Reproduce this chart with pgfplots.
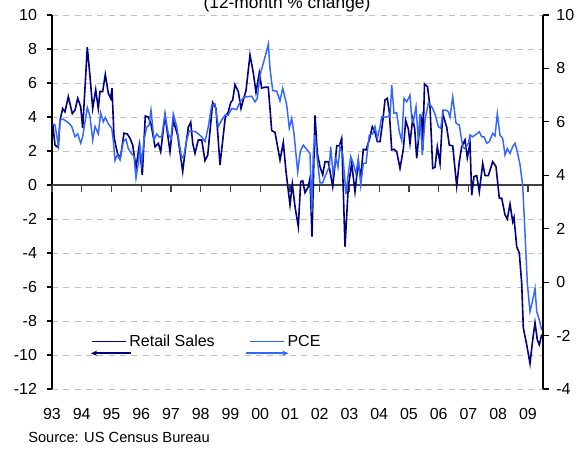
\documentclass[border=0pt]{standalone}
\usepackage{pgfplots}
\pgfplotsset{compat=1.18}
\usepackage{fontspec}
\setmainfont{Liberation Sans}
\usetikzlibrary{arrows.meta}
\definecolor{navyline}{RGB}{0,0,128}
\definecolor{pceblue}{RGB}{51,102,255}
\definecolor{gridgray}{RGB}{192,192,192}

\pgfplotsset{
  common/.style={
    scale only axis, width=368.25pt, height=280.5pt,
    at={(0pt,0pt)}, anchor=south west,
    xmin=1993, xmax=2009.504,
    x filter/.expression={1993+(x-52)/29.75},
    /pgf/number format/assume math mode=true,
    tick label style={font=\fontsize{12}{14}\selectfont},
  },
}

\begin{document}
\begin{tikzpicture}
% grid, left axis, x labels
\begin{axis}[common,
  ymin=-12, ymax=10,
  axis y line*=left, axis x line*=bottom,
  x axis line style={draw=none},
  xtick={1993,...,2009},
  xticklabels={93,94,95,96,97,98,99,00,01,02,03,04,05,06,07,08,09},
  xtick style={draw=none},
  ytick={-12,-10,...,10},
  yticklabels={-12,-10,-8,-6,-4,-2,0,2,4,6,8,10},
  ymajorgrids,
  grid style={gridgray, dash pattern=on 4.5pt off 4pt, line width=0.75pt},
  y axis line style={black, line width=0.8pt},
  ytick style={black, line width=0.8pt},
  tick align=outside, major tick length=3.75pt,
  xticklabel style={yshift=-7pt},
  yticklabel style={xshift=-4pt},
]
\end{axis}
% zero line with year ticks
\begin{axis}[common,
  ymin=-12, ymax=10,
  axis x line=middle, axis y line=none,
  xtick={1993,...,2009}, xticklabels={},
  x axis line style={-, black!75, line width=0.8pt},
  xtick style={black!75, line width=0.8pt},
  xtick align=outside, major tick length=5pt,
]
\end{axis}
% Retail sales (left axis)
\begin{axis}[common, ymin=-12, ymax=10, hide axis]
\addplot[navyline, line width=1.2pt] coordinates {
(52.7,3.6) (55,2.35) (58.3,2.2) (60,3.8) (62.7,4.5) (65,4.3) (68.3,5.2) (72.3,4.2) (75,4.4) (77.7,5.1) (80.7,4.6) (82.7,3.35) (87.3,8.1) (90,6.4) (92.7,4.5) (95.7,5.6) (98.3,4.5) (100,5.5) (102.7,5.5) (105.3,6.5) (108.3,5.4) (110.7,5.1) (112,5.7) (114,2.85) (116,2.25) (118,1.75) (120.7,1.7) (124,3.05) (127.3,3.0) (130,2.75) (132.7,2.35) (136,1.0) (139.3,2.35) (142.3,0.6) (145.3,4.06) (148.3,4.0) (151,3.6) (155,2.25) (158.3,2.45) (160.7,1.96) (165,4.1) (170,1.96) (173.3,3.8) (177.7,2.9) (182.7,0.8) (185.7,2.25) (188.3,3.4) (190.7,3.7) (192.7,2.45) (195,1.86) (198.3,2.65) (201.7,2.65) (205,1.43) (207.7,1.75) (212.7,4.85) (216,4.5) (220,1.18) (225.3,4.0) (228.3,4.3) (230.7,4.85) (232.7,5.0) (235,5.9) (238.3,5.5) (241,4.5) (243.3,5.0) (246,5.55) (250,7.65) (253.3,6.6) (256,5.45) (259.3,6.6) (261.7,5.7) (265,5.75) (268.3,5.75) (271.7,3.2) (275,3.1) (280,1.47) (283.3,2.5) (286,0.8) (290,-1.18) (292.3,0.06) (295,-1.27) (298.3,-2.45) (300.7,0.2) (302.7,0.25) (305,-0.45) (308.3,-0.1) (310,0.4) (312,-3.04) (315,4.1) (317.3,1.86) (320,1.08) (322.7,0.6) (325,1.37) (328.3,1.37) (332.7,-0.1) (335,1.2) (336.7,2.3) (339.3,2.3) (341.7,2.75) (345,-3.63) (348.3,-0.1) (351.7,1.27) (355,-0.4) (358.3,1.37) (360.7,0.4) (363.3,2.1) (366,2.06) (369.3,2.65) (372.3,3.43) (375,3.1) (377.3,2.55) (380,2.55) (382.7,3.73) (385,5.0) (387.3,5.1) (389.3,4.3) (391.7,2.06) (394,2.1) (396.7,1.96) (400,0.98) (403.3,2.1) (405.7,3.8) (408.3,3.3) (410,2.45) (412.7,3.9) (414.7,3.3) (416.7,1.57) (419.3,3.2) (421.7,3.9) (422.7,2.06) (424.5,5.94) (427.5,5.78) (430,4.6) (432.7,0.98) (435,1.05) (437.3,2.25) (440,1.27) (442.7,4.2) (446.7,3.4) (449.3,2.35) (452.7,2.3) (456.7,-0.06) (459.3,1.37) (461.7,2.25) (465,2.65) (467.3,1.6) (470,2.45) (471.7,-0.6) (474,0.5) (476.7,0.55) (479.3,-0.4) (482.7,1.27) (485,0.55) (488.3,0.55) (492.7,1.37) (496,1.08) (499.3,-0.78) (501.7,-0.78) (505,-1.76) (507.3,-2.0) (510,-1.12) (512.7,-2.16) (514,-1.9) (516.7,-3.63) (519.3,-4.0) (521.7,-5.8) (523.3,-8.4) (526.7,-9.4) (530,-10.5) (532.7,-9.1) (535,-8.1) (537.3,-9.1) (539.3,-9.4) (541.7,-8.8)
};
\end{axis}
% PCE (right axis) + legend
\begin{axis}[common,
  ymin=-4, ymax=10,
  axis y line*=right, axis x line=none,
  ytick={-4,-2,...,10}, yticklabels={-4,-2,0,2,4,6,8,10},
  y axis line style={black, line width=0.8pt},
  ytick style={black, line width=0.8pt},
  tick align=outside, major tick length=4.5pt,
  yticklabel style={anchor=west, xshift=2pt},
  legend columns=2,
  legend style={draw=none, fill=none, inner sep=0pt,
    at={(axis description cs:0.0794,0.1265)}, anchor=west,
    font=\fontsize{12}{14}\selectfont,
    /tikz/every even column/.append style={column sep=24pt}},
]
\addlegendimage{legend image code/.code={
  \draw[navyline, line width=1.1pt] (0pt,0pt) -- (25.5pt,0pt);
  \draw[navyline, line width=1.2pt, overlay, -{Stealth[length=4.5pt,width=4pt]}] (29.25pt,-8.7pt) -- (-0.75pt,-8.7pt);
}}
\addlegendentry{Retail Sales}
\addplot[pceblue, line width=1.1pt, legend image code/.code={
  \draw[pceblue, line width=1.1pt] (0pt,0pt) -- (25.5pt,0pt);
  \draw[pceblue, line width=1.2pt, overlay, -{Stealth[length=4.5pt,width=4pt]}] (-3.2pt,-8.7pt) -- (28.7pt,-8.7pt);
}] coordinates {
(52.7,5.92) (55,5.88) (58.3,5.13) (60,6.07) (63.3,6.1) (68.3,5.97) (71.7,5.83) (75,5.44) (77.7,5.55) (80.7,5.2) (82.7,5.44) (87.3,6.54) (90,6.2) (92.7,5.32) (95,5.83) (98.3,5.55) (100.7,6.34) (103.3,6.0) (105.3,6.17) (108.3,5.93) (111.7,5.76) (113.3,5.3) (115,4.55) (117.3,4.76) (120,4.57) (123.3,5.26) (126,5.35) (128.3,5.0) (131.7,4.8) (134,4.72) (136,3.89) (138.3,4.45) (140,5.07) (141.7,4.45) (144,5.32) (146.7,5.8) (149,5.88) (151,6.44) (154,5.32) (156.7,5.55) (159,5.44) (161.7,5.44) (165,6.3) (168.3,5.55) (171,5.38) (173.3,6.3) (176.7,5.83) (179.3,5.2) (181.7,4.63) (184,4.76) (186.7,5.32) (189.3,5.66) (191.7,5.64) (195,5.64) (198.3,5.55) (201.7,5.44) (205,5.26) (208.3,5.82) (211.7,6.63) (215,6.67) (218.3,5.82) (221.7,6.07) (225,6.25) (228.3,6.25) (231.7,6.5) (236.7,6.46) (240,6.75) (244,6.92) (247.3,6.94) (251.7,6.96) (255,6.75) (257.3,6.88) (260,7.75) (263.3,8.19) (266,8.57) (268.3,8.91) (270,8.0) (272.7,7.17) (276.7,7.15) (280,6.78) (282.7,7.26) (286.7,6.63) (289.3,5.76) (291.7,6.13) (294,5.55) (297.7,4.13) (300.3,4.9) (303.3,5.13) (306,5.0) (310,4.82) (311.7,2.6) (313.3,4.82) (315,5.5) (317.3,4.6) (320,3.72) (322.7,3.72) (325.5,4.0) (329.3,4.32) (330.7,5.07) (333,4.05) (336,4.63) (338,4.3) (340,5.07) (342.7,4.8) (346,3.3) (348.5,4.13) (350.7,4.7) (353.3,4.45) (356,4.06) (358.3,4.63) (360.7,3.63) (363.3,4.45) (366,4.45) (369.3,5.51) (372.7,5.55) (375,5.82) (377.3,5.38) (380,5.82) (381.7,6.19) (385,6.17) (387.3,6.2) (390,6.19) (391.7,7.38) (394,6.32) (396.7,6.34) (399.3,5.63) (401.7,5.3) (404,6.88) (406.7,6.75) (410,7.0) (411.7,6.13) (413.3,6.0) (416,6.57) (418.3,5.3) (420,6.3) (422.3,4.76) (425,6.07) (428.3,6.7) (431.7,6.57) (435,6.3) (438.3,5.82) (440.7,5.76) (443.3,6.44) (446,6.44) (448.3,6.38) (450,6.17) (452.7,6.94) (456,5.95) (459.3,5.88) (462.7,5.07) (465,5.0) (468.3,5.2) (470,5.51) (472.7,5.44) (476.7,5.55) (479.3,5.63) (481.7,5.44) (484,5.44) (486.7,5.2) (489.3,5.26) (492.7,5.57) (495,5.47) (497.3,6.3) (500,5.5) (502.7,5.38) (505,4.76) (507.3,5.0) (510,4.82) (512.7,5.07) (515,5.2) (517.3,4.88) (520,4.4) (522.7,3.6) (525,1.83) (527.3,-0.04) (530,-1.1) (532.7,-0.67) (535,-0.23) (536.7,-1.1) (539.3,-1.42) (541.7,-1.8)
};
\addlegendentry{PCE}
\end{axis}
\node[anchor=base, font=\fontsize{13}{15}\selectfont] at (176.25pt,285pt) {(12-month \% change)};
\node[anchor=base west, inner sep=0pt, font=\fontsize{11}{13}\selectfont] at (-18pt,-40pt) {Source: US Census Bureau};
\pgfresetboundingbox
\useasboundingbox (-39pt,-48.75pt) rectangle (396.75pt,291.75pt);
\end{tikzpicture}
\end{document}
